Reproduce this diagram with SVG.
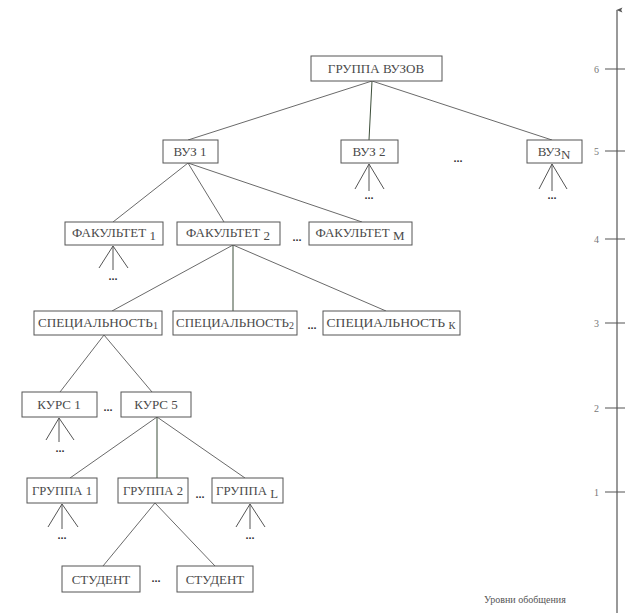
<svg xmlns="http://www.w3.org/2000/svg" width="625" height="613" viewBox="0 0 625 613">
  <style>
    .box { fill: #ffffff; stroke: #555555; stroke-width: 1; }
    .lbl { font-family: "Liberation Serif", "DejaVu Serif", serif; font-size: 13px; fill: #4a4a4a; text-anchor: middle; }
    .sub { font-size: 13px; }
    .dots { font-family: "Liberation Sans", sans-serif; font-size: 11px; font-weight: bold; fill: #333333; text-anchor: middle; }
    .edge { stroke: #6a6a6a; stroke-width: 1; fill: none; }
    .stem { stroke: #3d4f3a; stroke-width: 1; fill: none; }
    .fan { stroke: #555555; stroke-width: 1; fill: none; }
    .axis { stroke: #555555; stroke-width: 1.2; fill: none; }
    .tick { font-family: "Liberation Serif", serif; font-size: 10px; fill: #777777; text-anchor: end; }
    .cap { font-family: "Liberation Serif", serif; font-size: 10px; fill: #555555; }
  </style>
  <defs>
    <marker id="arrow" viewBox="0 0 10 10" refX="5" refY="1" markerWidth="6" markerHeight="10" orient="auto-start-reverse" markerUnits="userSpaceOnUse">
      <path d="M5 0 L9 10 L5 8 L1 10 Z" fill="#555555"/>
    </marker>
  </defs>

  <rect width="625" height="613" fill="#ffffff"/>

  <!-- connectors -->
  <g id="connectors">
    <line class="edge" x1="372" y1="81" x2="188" y2="140"/>
    <line class="stem" x1="372" y1="81" x2="369" y2="140"/>
    <line class="edge" x1="372" y1="81" x2="552" y2="140"/>

    <line class="edge" x1="188" y1="163" x2="113" y2="222"/>
    <line class="edge" x1="188" y1="163" x2="224" y2="222"/>
    <line class="edge" x1="188" y1="163" x2="362" y2="222"/>

    <line class="edge" x1="233" y1="245" x2="112" y2="311"/>
    <line class="stem" x1="233" y1="245" x2="233" y2="311"/>
    <line class="edge" x1="233" y1="245" x2="386" y2="311"/>

    <line class="edge" x1="104" y1="335" x2="60" y2="392"/>
    <line class="edge" x1="104" y1="335" x2="152" y2="392"/>

    <line class="edge" x1="157" y1="417" x2="70" y2="478"/>
    <line class="stem" x1="157" y1="417" x2="157" y2="478"/>
    <line class="edge" x1="157" y1="417" x2="245" y2="478"/>

    <line class="edge" x1="155" y1="503" x2="103" y2="566"/>
    <line class="edge" x1="155" y1="503" x2="215" y2="566"/>

    <!-- open fans under collapsed nodes -->
    <path class="fan" d="M369 164 L355 189 M369 164 L369 191 M369 164 L384 189"/>
    <path class="fan" d="M552 164 L539 189 M552 164 L552 191 M552 164 L567 189"/>
    <path class="fan" d="M113 246 L99 268 M113 246 L113 270 M113 246 L128 268"/>
    <path class="fan" d="M59 418 L46 440 M59 418 L59 442 M59 418 L74 440"/>
    <path class="fan" d="M62 504 L48 527 M62 504 L62 529 M62 504 L78 527"/>
    <path class="fan" d="M250 504 L236 527 M250 504 L250 529 M250 504 L265 527"/>
  </g>

  <!-- dots under fans and between siblings -->
  <g id="ellipses">
    <text class="dots" x="369" y="199">...</text>
    <text class="dots" x="552" y="199">...</text>
    <text class="dots" x="113" y="280">...</text>
    <text class="dots" x="60" y="452">...</text>
    <text class="dots" x="62" y="539">...</text>
    <text class="dots" x="250" y="539">...</text>
    <text class="dots" x="458" y="162">...</text>
    <text class="dots" x="297" y="241">...</text>
    <text class="dots" x="312" y="329">...</text>
    <text class="dots" x="108" y="411">...</text>
    <text class="dots" x="200" y="498">...</text>
    <text class="dots" x="156" y="582">...</text>
  </g>

  <!-- level 6 -->
  <g id="n-group-vuz">
    <rect class="box" x="311" y="56" width="131" height="25"/>
    <text class="lbl" x="376" y="73">ГРУППА ВУЗОВ</text>
  </g>

  <!-- level 5 -->
  <g id="n-vuz1">
    <rect class="box" x="163" y="140" width="55" height="23"/>
    <text class="lbl" x="190" y="156">ВУЗ 1</text>
  </g>
  <g id="n-vuz2">
    <rect class="box" x="341" y="140" width="57" height="23"/>
    <text class="lbl" x="369" y="156">ВУЗ 2</text>
  </g>
  <g id="n-vuzN">
    <rect class="box" x="527" y="140" width="55" height="23"/>
    <text class="lbl" x="554" y="156">ВУЗ<tspan class="sub" dy="3">N</tspan></text>
  </g>

  <!-- level 4 -->
  <g id="n-fak1">
    <rect class="box" x="65" y="222" width="98" height="23"/>
    <text class="lbl" x="114" y="237">ФАКУЛЬТЕТ <tspan class="sub" dy="3">1</tspan></text>
  </g>
  <g id="n-fak2">
    <rect class="box" x="177" y="222" width="103" height="23"/>
    <text class="lbl" x="228" y="237">ФАКУЛЬТЕТ <tspan class="sub" dy="3">2</tspan></text>
  </g>
  <g id="n-fakM">
    <rect class="box" x="309" y="222" width="103" height="23"/>
    <text class="lbl" x="360" y="237">ФАКУЛЬТЕТ <tspan class="sub" dy="3">М</tspan></text>
  </g>

  <!-- level 3 -->
  <g id="n-spec1">
    <rect class="box" x="34" y="311" width="128" height="24"/>
    <text class="lbl" x="98" y="327" textLength="120" lengthAdjust="spacingAndGlyphs">СПЕЦИАЛЬНОСТЬ<tspan font-size="10" dy="2">1</tspan></text>
  </g>
  <g id="n-spec2">
    <rect class="box" x="173" y="311" width="124" height="24"/>
    <text class="lbl" x="235" y="327" textLength="118" lengthAdjust="spacingAndGlyphs">СПЕЦИАЛЬНОСТЬ<tspan font-size="10" dy="2">2</tspan></text>
  </g>
  <g id="n-specK">
    <rect class="box" x="323" y="311" width="137" height="24"/>
    <text class="lbl" x="391" y="327" textLength="129" lengthAdjust="spacingAndGlyphs">СПЕЦИАЛЬНОСТЬ <tspan font-size="10" dy="2">К</tspan></text>
  </g>

  <!-- level 2 -->
  <g id="n-kurs1">
    <rect class="box" x="22" y="392" width="75" height="25"/>
    <text class="lbl" x="59" y="409">КУРС 1</text>
  </g>
  <g id="n-kurs5">
    <rect class="box" x="121" y="392" width="70" height="25"/>
    <text class="lbl" x="156" y="409">КУРС 5</text>
  </g>

  <!-- level 1 -->
  <g id="n-gr1">
    <rect class="box" x="27" y="478" width="70" height="25"/>
    <text class="lbl" x="62" y="495" textLength="60" lengthAdjust="spacingAndGlyphs">ГРУППА 1</text>
  </g>
  <g id="n-gr2">
    <rect class="box" x="118" y="478" width="70" height="25"/>
    <text class="lbl" x="153" y="495" textLength="60" lengthAdjust="spacingAndGlyphs">ГРУППА 2</text>
  </g>
  <g id="n-grL">
    <rect class="box" x="212" y="478" width="71" height="25"/>
    <text class="lbl" x="247" y="495" textLength="62" lengthAdjust="spacingAndGlyphs">ГРУППА <tspan class="sub" dy="3">L</tspan></text>
  </g>

  <!-- level 0 -->
  <g id="n-stud1">
    <rect class="box" x="62" y="566" width="78" height="26"/>
    <text class="lbl" x="101" y="584">СТУДЕНТ</text>
  </g>
  <g id="n-stud2">
    <rect class="box" x="177" y="566" width="76" height="26"/>
    <text class="lbl" x="215" y="584">СТУДЕНТ</text>
  </g>

  <!-- level scale -->
  <g id="axis">
    <line class="axis" x1="617" y1="613" x2="617" y2="10" marker-end="url(#arrow)"/>
    <path class="axis" d="M605 69 H625 M605 151 H625 M605 239 H625 M605 323 H625 M605 408 H625 M605 492 H625"/>
    <text class="tick" x="599" y="73">6</text>
    <text class="tick" x="599" y="155">5</text>
    <text class="tick" x="599" y="243">4</text>
    <text class="tick" x="599" y="327">3</text>
    <text class="tick" x="599" y="412">2</text>
    <text class="tick" x="599" y="496">1</text>
    <text class="cap" x="484" y="603">Уровни обобщения</text>
  </g>
</svg>
